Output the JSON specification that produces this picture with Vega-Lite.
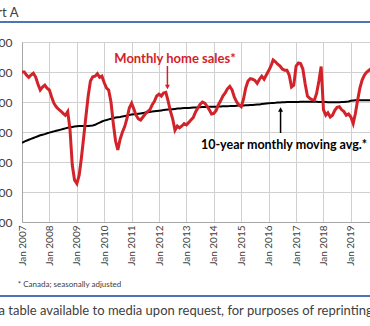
{
  "$schema": "https://vega.github.io/schema/vega-lite/v6.json",
  "width": 348,
  "height": 180,
  "autosize": {"type": "none"},
  "padding": {"left": 22, "top": 42, "right": 0, "bottom": 104},
  "background": "white",
  "config": {
    "font": "Lato",
    "view": {"stroke": null},
    "axisY": {"values": [20000, 25000, 30000, 35000, 40000, 45000, 50000], "format": ",.0f", "labelFontSize": 12, "labelColor": "#404040", "labelPadding": 10, "ticks": false, "grid": true, "gridColor": "#d0d0d0", "domainColor": "#a6a6a6", "title": null},
    "axisX": {"format": "%b %Y", "labelAngle": 270, "labelFontSize": 10, "labelColor": "#404040", "labelPadding": 3, "ticks": false, "grid": true, "gridColor": "#d0d0d0", "domainColor": "#a6a6a6", "labelFlush": false, "labelOverlap": false, "title": null}
  },
  "data": {"values": [
    {"d":"2007-01-01","s":45000,"a":33200},{"d":"2007-02-01","s":45000,"a":33400},{"d":"2007-03-01","s":44500,"a":33550},{"d":"2007-04-01","s":44100,"a":33700},{"d":"2007-05-01","s":44500,"a":33850},{"d":"2007-06-01","s":44800,"a":34000},{"d":"2007-07-01","s":44200,"a":34150},{"d":"2007-08-01","s":43000,"a":34300},{"d":"2007-09-01","s":42000,"a":34450},{"d":"2007-10-01","s":42500,"a":34550},{"d":"2007-11-01","s":42800,"a":34650},{"d":"2007-12-01","s":42300,"a":34800},
    {"d":"2008-01-01","s":42000,"a":34900},{"d":"2008-02-01","s":40800,"a":35000},{"d":"2008-03-01","s":39800,"a":35100},{"d":"2008-04-01","s":39200,"a":35200},{"d":"2008-05-01","s":38800,"a":35300},{"d":"2008-06-01","s":38500,"a":35400},{"d":"2008-07-01","s":38100,"a":35500},{"d":"2008-08-01","s":37800,"a":35600},{"d":"2008-09-01","s":38400,"a":35700},{"d":"2008-10-01","s":35500,"a":35800},{"d":"2008-11-01","s":29500,"a":35850},{"d":"2008-12-01","s":27000,"a":35900},
    {"d":"2009-01-01","s":26400,"a":35950},{"d":"2009-02-01","s":27800,"a":36000},{"d":"2009-03-01","s":30500,"a":36000},{"d":"2009-04-01","s":34000,"a":36000},{"d":"2009-05-01","s":37500,"a":36000},{"d":"2009-06-01","s":41000,"a":36000},{"d":"2009-07-01","s":43500,"a":36050},{"d":"2009-08-01","s":44200,"a":36100},{"d":"2009-09-01","s":44300,"a":36200},{"d":"2009-10-01","s":44700,"a":36400},{"d":"2009-11-01","s":44100,"a":36550},{"d":"2009-12-01","s":44300,"a":36750},
    {"d":"2010-01-01","s":43200,"a":36900},{"d":"2010-02-01","s":42300,"a":37000},{"d":"2010-03-01","s":42000,"a":37100},{"d":"2010-04-01","s":40000,"a":37200},{"d":"2010-05-01","s":36500,"a":37300},{"d":"2010-06-01","s":33500,"a":37400},{"d":"2010-07-01","s":32000,"a":37450},{"d":"2010-08-01","s":33800,"a":37500},{"d":"2010-09-01","s":35000,"a":37600},{"d":"2010-10-01","s":35900,"a":37650},{"d":"2010-11-01","s":37300,"a":37750},{"d":"2010-12-01","s":39000,"a":37850},
    {"d":"2011-01-01","s":39800,"a":37900},{"d":"2011-02-01","s":38800,"a":37950},{"d":"2011-03-01","s":37800,"a":38000},{"d":"2011-04-01","s":37200,"a":38050},{"d":"2011-05-01","s":37000,"a":38100},{"d":"2011-06-01","s":37500,"a":38150},{"d":"2011-07-01","s":38000,"a":38250},{"d":"2011-08-01","s":38400,"a":38300},{"d":"2011-09-01","s":38700,"a":38350},{"d":"2011-10-01","s":39500,"a":38400},{"d":"2011-11-01","s":40100,"a":38450},{"d":"2011-12-01","s":41000,"a":38500},
    {"d":"2012-01-01","s":41300,"a":38550},{"d":"2012-02-01","s":41000,"a":38600},{"d":"2012-03-01","s":41500,"a":38650},{"d":"2012-04-01","s":41600,"a":38700},{"d":"2012-05-01","s":40200,"a":38750},{"d":"2012-06-01","s":38500,"a":38780},{"d":"2012-07-01","s":37200,"a":38800},{"d":"2012-08-01","s":35300,"a":38850},{"d":"2012-09-01","s":36000,"a":38900},{"d":"2012-10-01","s":35700,"a":38920},{"d":"2012-11-01","s":36000,"a":38950},{"d":"2012-12-01","s":36400,"a":38980},
    {"d":"2013-01-01","s":36200,"a":39000},{"d":"2013-02-01","s":36600,"a":39020},{"d":"2013-03-01","s":37000,"a":39050},{"d":"2013-04-01","s":37400,"a":39080},{"d":"2013-05-01","s":38300,"a":39100},{"d":"2013-06-01","s":39000,"a":39100},{"d":"2013-07-01","s":39600,"a":39120},{"d":"2013-08-01","s":40000,"a":39150},{"d":"2013-09-01","s":39800,"a":39150},{"d":"2013-10-01","s":39300,"a":39180},{"d":"2013-11-01","s":38700,"a":39200},{"d":"2013-12-01","s":38000,"a":39200},
    {"d":"2014-01-01","s":38100,"a":39200},{"d":"2014-02-01","s":38600,"a":39220},{"d":"2014-03-01","s":39500,"a":39250},{"d":"2014-04-01","s":40200,"a":39250},{"d":"2014-05-01","s":41000,"a":39280},{"d":"2014-06-01","s":41500,"a":39300},{"d":"2014-07-01","s":42200,"a":39300},{"d":"2014-08-01","s":42600,"a":39320},{"d":"2014-09-01","s":42000,"a":39350},{"d":"2014-10-01","s":40800,"a":39350},{"d":"2014-11-01","s":40000,"a":39380},{"d":"2014-12-01","s":39500,"a":39400},
    {"d":"2015-01-01","s":39200,"a":39400},{"d":"2015-02-01","s":40500,"a":39420},{"d":"2015-03-01","s":42300,"a":39450},{"d":"2015-04-01","s":43500,"a":39470},{"d":"2015-05-01","s":43900,"a":39500},{"d":"2015-06-01","s":43800,"a":39520},{"d":"2015-07-01","s":43600,"a":39550},{"d":"2015-08-01","s":43100,"a":39580},{"d":"2015-09-01","s":43800,"a":39600},{"d":"2015-10-01","s":44300,"a":39650},{"d":"2015-11-01","s":43800,"a":39700},{"d":"2015-12-01","s":44500,"a":39750},
    {"d":"2016-01-01","s":45200,"a":39800},{"d":"2016-02-01","s":46000,"a":39820},{"d":"2016-03-01","s":47000,"a":39850},{"d":"2016-04-01","s":46700,"a":39870},{"d":"2016-05-01","s":46300,"a":39900},{"d":"2016-06-01","s":46000,"a":39920},{"d":"2016-07-01","s":45500,"a":39950},{"d":"2016-08-01","s":45300,"a":39970},{"d":"2016-09-01","s":45300,"a":40000},{"d":"2016-10-01","s":44500,"a":40000},{"d":"2016-11-01","s":42500,"a":40000},{"d":"2016-12-01","s":42800,"a":40000},
    {"d":"2017-01-01","s":46000,"a":40000},{"d":"2017-02-01","s":46500,"a":40020},{"d":"2017-03-01","s":46400,"a":40050},{"d":"2017-04-01","s":45500,"a":40050},{"d":"2017-05-01","s":43100,"a":40050},{"d":"2017-06-01","s":41000,"a":40050},{"d":"2017-07-01","s":40600,"a":40050},{"d":"2017-08-01","s":40400,"a":40050},{"d":"2017-09-01","s":40300,"a":40050},{"d":"2017-10-01","s":41400,"a":40030},{"d":"2017-11-01","s":43500,"a":40000},{"d":"2017-12-01","s":45900,"a":40000},
    {"d":"2018-01-01","s":38700,"a":40000},{"d":"2018-02-01","s":37800,"a":39980},{"d":"2018-03-01","s":38200,"a":39950},{"d":"2018-04-01","s":37500,"a":39950},{"d":"2018-05-01","s":37800,"a":39950},{"d":"2018-06-01","s":38600,"a":39950},{"d":"2018-07-01","s":39100,"a":39950},{"d":"2018-08-01","s":39200,"a":39950},{"d":"2018-09-01","s":38700,"a":39980},{"d":"2018-10-01","s":38400,"a":40000},{"d":"2018-11-01","s":37800,"a":40050},{"d":"2018-12-01","s":38000,"a":40100},
    {"d":"2019-01-01","s":37500,"a":40200},{"d":"2019-02-01","s":36400,"a":40250},{"d":"2019-03-01","s":38000,"a":40300},{"d":"2019-04-01","s":40300,"a":40300},{"d":"2019-05-01","s":42300,"a":40300},{"d":"2019-06-01","s":43700,"a":40300},{"d":"2019-07-01","s":44500,"a":40300},{"d":"2019-08-01","s":45000,"a":40300},{"d":"2019-09-01","s":45300,"a":40300},{"d":"2019-10-01","s":45600,"a":40300}
  ]},
  "layer": [
    {
      "mark": {"type": "line", "color": "#000000", "strokeWidth": 2, "clip": true},
      "encoding": {
        "x": {"field": "d", "type": "temporal",
          "scale": {"type": "utc", "domain": [{"year": 2007, "month": 1, "date": 1, "utc": true}, {"year": 2019, "month": 9, "date": 13, "utc": true}]},
          "axis": {"tickCount": {"interval": "year", "step": 1}}},
        "y": {"field": "a", "type": "quantitative",
          "scale": {"domain": [20000, 50000], "nice": false, "zero": false}}
      }
    },
    {
      "mark": {"type": "line", "color": "#d2232a", "strokeWidth": 3, "clip": true},
      "encoding": {
        "x": {"field": "d", "type": "temporal"},
        "y": {"field": "s", "type": "quantitative"}
      }
    },
    {
      "data": {"values": [{}]},
      "mark": {"type": "point", "shape": "M-1,-0.005L1,-0.005L1,0.005L-1,0.005Z", "size": 160000, "filled": true, "color": "#4a76b8", "opacity": 1, "strokeWidth": 0, "clip": false},
      "encoding": {
        "x": {"datum": {"year": 2012, "month": 12, "date": 13, "utc": true}, "type": "temporal"},
        "y": {"datum": 53333, "type": "quantitative"}
      }
    },
    {
      "data": {"values": [{}]},
      "mark": {"type": "point", "shape": "M-1,-0.005L1,-0.005L1,0.005L-1,0.005Z", "size": 160000, "filled": true, "color": "#4a76b8", "opacity": 1, "strokeWidth": 0, "clip": false},
      "encoding": {
        "x": {"datum": {"year": 2012, "month": 12, "date": 13, "utc": true}, "type": "temporal"},
        "y": {"datum": 7667, "type": "quantitative"}
      }
    },
    {
      "data": {"values": [{}]},
      "mark": {"type": "text", "text": "Chart A", "fontSize": 13, "color": "#404040", "align": "left", "baseline": "alphabetic", "clip": false},
      "encoding": {
        "x": {"datum": {"year": 2005, "month": 4, "date": 14, "utc": true}, "type": "temporal"},
        "y": {"datum": 54167, "type": "quantitative"}
      }
    },
    {
      "data": {"values": [{}]},
      "mark": {"type": "text", "text": "* Canada; seasonally adjusted", "fontSize": 8, "color": "#404040", "align": "left", "baseline": "middle", "clip": false},
      "encoding": {
        "x": {"datum": {"year": 2006, "month": 11, "date": 6, "utc": true}, "type": "temporal"},
        "y": {"datum": 9500, "type": "quantitative"}
      }
    },
    {
      "data": {"values": [{}]},
      "mark": {"type": "text", "text": "Data table available to media upon request, for purposes of reprinting or other use.", "fontSize": 13, "color": "#404040", "align": "left", "baseline": "middle", "clip": false},
      "encoding": {
        "x": {"datum": {"year": 2005, "month": 5, "date": 22, "utc": true}, "type": "temporal"},
        "y": {"datum": 5167, "type": "quantitative"}
      }
    },
    {
      "data": {"values": [{}]},
      "mark": {"type": "text", "text": "Monthly home sales*", "fontSize": 13, "fontWeight": "bold", "color": "#d2232a", "align": "center", "baseline": "middle", "clip": false},
      "encoding": {
        "x": {"datum": {"year": 2012, "month": 8, "date": 1, "utc": true}, "type": "temporal"},
        "y": {"datum": 47167, "type": "quantitative"}
      }
    },
    {
      "data": {"values": [{}]},
      "mark": {"type": "rule", "color": "#d2232a", "strokeWidth": 1.5},
      "encoding": {
        "x": {"datum": {"year": 2012, "month": 4, "date": 22, "utc": true}, "type": "temporal"},
        "y": {"datum": 46000, "type": "quantitative"},
        "y2": {"datum": 42700}
      }
    },
    {
      "data": {"values": [{}]},
      "mark": {"type": "point", "shape": "triangle-down", "filled": true, "color": "#d2232a", "size": 25, "opacity": 1},
      "encoding": {
        "x": {"datum": {"year": 2012, "month": 4, "date": 22, "utc": true}, "type": "temporal"},
        "y": {"datum": 42500, "type": "quantitative"}
      }
    },
    {
      "data": {"values": [{}]},
      "mark": {"type": "text", "text": "10-year monthly moving avg.*", "fontSize": 12.5, "fontWeight": "bold", "color": "#000000", "align": "center", "baseline": "middle", "clip": false},
      "encoding": {
        "x": {"datum": {"year": 2016, "month": 7, "date": 24, "utc": true}, "type": "temporal"},
        "y": {"datum": 32833, "type": "quantitative"}
      }
    },
    {
      "data": {"values": [{}]},
      "mark": {"type": "rule", "color": "#000000", "strokeWidth": 1.5},
      "encoding": {
        "x": {"datum": {"year": 2016, "month": 6, "date": 8, "utc": true}, "type": "temporal"},
        "y": {"datum": 34833, "type": "quantitative"},
        "y2": {"datum": 38600}
      }
    },
    {
      "data": {"values": [{}]},
      "mark": {"type": "point", "shape": "triangle-up", "filled": true, "color": "#000000", "size": 25, "opacity": 1},
      "encoding": {
        "x": {"datum": {"year": 2016, "month": 6, "date": 8, "utc": true}, "type": "temporal"},
        "y": {"datum": 38750, "type": "quantitative"}
      }
    }
  ]
}
